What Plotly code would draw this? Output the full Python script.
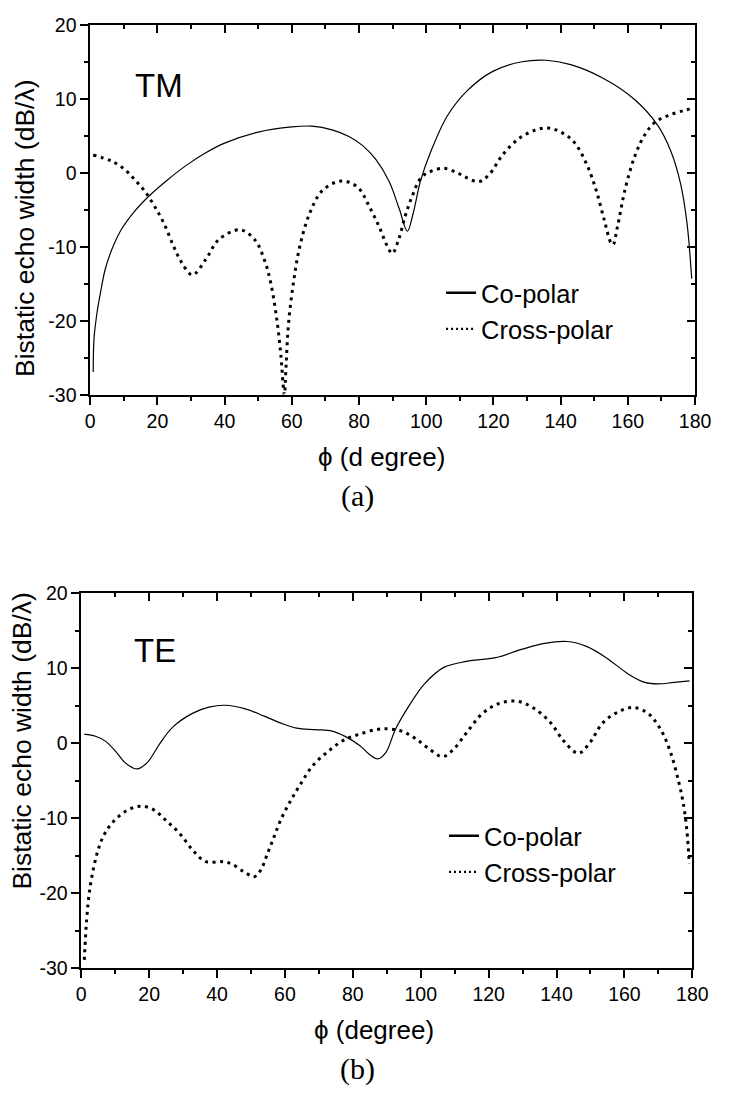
import plotly.graph_objects as go

# ---------------- data ----------------
tm_co_phi = [0.9, 1.16, 2.1, 3.1, 4.5, 6.5, 9.35, 13.2, 17.6, 22.9, 28.6, 34.4, 40.0, 50.0, 60.0,
             66.0, 72.0, 77.0, 81.0, 85.0, 89.0, 92.0, 94.4, 96.1, 98.3, 101.4, 106.3,
             112.0, 119.8, 128.5, 135.7, 143.0, 152.5, 162.0, 168.9, 172.8, 175.7, 177.6, 179.0]
tm_co_val = [-26.9, -22.3, -18.7, -16.1, -13.0, -10.3, -7.6, -5.2, -3.1, -1.0, 1.0, 2.7, 4.0, 5.5, 6.2,
             6.3, 5.8, 4.9, 3.7, 1.8, -1.2, -4.9, -7.9, -5.5, -1.1, 2.9, 7.7,
             11.0, 13.7, 15.0, 15.2, 14.6, 12.8, 9.9, 6.4, 2.9, -1.5, -6.8, -14.3]

tm_cross_phi = [0.9, 6.5, 10.3, 13.2, 16.1, 19.0, 21.9, 24.8, 27.2, 30.4, 34.4, 38.3, 44.6,
                48.9, 51.8, 53.7, 55.6, 56.8, 57.4, 57.8, 58.3, 59.0, 60.5, 62.4, 65.3, 69.1,
                74.9, 79.7, 83.1, 86.0, 88.4, 89.9, 91.8, 93.7, 95.7, 98.5, 101.4, 105.3,
                109.2, 112.0, 115.7, 118.8, 122.7, 127.5, 132.3, 136.2, 140.0, 143.9, 147.8,
                150.6, 153.0, 155.0, 155.6, 156.9, 159.3, 162.2, 165.0, 168.0, 171.8, 176.6, 179.5]
tm_cross_val = [2.4, 1.55, 0.45, -0.9, -2.4, -4.4, -6.8, -9.9, -12.1, -13.8, -11.7, -9.0, -7.7,
                -9.0, -11.7, -14.8, -20.0, -24.9, -28.5, -30.0, -26.0, -20.5, -14.8, -9.9, -5.5, -2.4,
                -1.1, -2.0, -4.6, -7.3, -9.9, -10.9, -9.0, -5.9, -3.3, -0.65, 0.2, 0.6,
                0.0, -0.65, -1.2, -0.2, 2.4, 4.6, 5.75, 6.05, 5.5, 4.2, 1.1,
                -2.4, -6.4, -9.5, -9.7, -7.3, -2.0, 2.4, 5.1, 6.8, 7.7, 8.4, 8.7]

te_co_phi = [0.9, 4.2, 7.1, 10.0, 12.8, 15.2, 16.7, 19.5, 23.3, 27.1, 32.9, 37.6, 42.4, 48.1, 53.9,
             58.6, 63.4, 69.1, 73.9, 77.7, 82.0, 84.9, 87.3, 89.7, 92.5, 96.3, 101.1, 106.8, 113.5,
             122.1, 129.7, 136.4, 143.1, 148.8, 154.6, 161.2, 166.0, 169.8, 174.6, 179.2]
te_co_val = [1.2, 0.92, 0.27, -1.03, -2.56, -3.3, -3.43, -2.56, 0.05, 2.2, 4.0, 4.8, 5.05, 4.6, 3.6,
             2.7, 2.0, 1.8, 1.6, 0.9, -0.3, -1.5, -2.1, -1.25, 1.8, 4.8, 7.9, 10.1, 10.9,
             11.4, 12.5, 13.3, 13.55, 12.9, 11.4, 9.2, 8.1, 7.9, 8.1, 8.3]

te_cross_phi = [0.9, 1.6, 2.5, 3.8, 5.2, 7.1, 10.0, 13.8, 17.6, 21.4, 25.2, 29.1, 32.9, 36.7,
                41.5, 44.3, 48.1, 51.0, 52.9, 54.8, 56.7, 58.6, 61.5, 64.4, 68.2, 73.0, 77.7,
                82.0, 86.8, 90.6, 94.4, 98.2, 102.0, 106.4, 109.7, 113.5, 118.3, 123.1, 128.3,
                133.5, 138.3, 142.1, 146.4, 149.8, 153.6, 158.3, 162.6, 166.9, 170.7, 173.6,
                176.0, 177.4, 178.4, 179.1]
te_cross_val = [-28.9, -23.5, -19.5, -16.3, -13.9, -11.9, -10.2, -8.9, -8.4, -8.9, -10.4, -12.1, -14.3, -15.8,
                -15.8, -16.1, -17.2, -17.8, -16.9, -14.8, -12.6, -10.4, -7.8, -5.6, -3.0, -1.0, 0.5,
                1.2, 1.8, 1.9, 1.6, 0.7, -0.6, -1.8, -0.8, 1.4, 4.0, 5.3, 5.6,
                4.6, 2.7, 0.3, -1.35, 0.05, 2.7, 4.2, 4.75, 4.0, 1.8, -1.25,
                -5.2, -8.2, -11.7, -16.1]

x_range = [0, 180]
y_range = [-30, 20]
y_tickvals = [-30, -20, -10, 0, 10, 20]
y_ticktext = ["-30", "-20", "-10", "0", "10", "20"]
y_title = "Bistatic echo width (dB/λ)"
x_title_a = "ϕ (d egree)"
x_title_b = "ϕ (degree)"
series_names = ["Co-polar", "Cross-polar"]

# ---------------- figure ----------------
W, H = 730, 1101
SANS = "Liberation Sans, Arial, sans-serif"
SERIF = "Liberation Serif, Times New Roman, serif"

def px_x(p):
    return p / W

def px_y(p):
    return 1 - p / H

fig = go.Figure()

co_line = dict(color="black", width=1.2, shape="spline", smoothing=1.0)
cross_line = dict(color="black", width=3, dash="3px,4.5px", shape="spline", smoothing=1.0)
co_leg = dict(color="black", width=2.6)
cross_leg = dict(color="black", width=2.2, dash="2px,3px")

for xa, ya, lg, xs1, ys1, xs2, ys2 in [
    ("x", "y", "legend", tm_co_phi, tm_co_val, tm_cross_phi, tm_cross_val),
    ("x2", "y2", "legend2", te_co_phi, te_co_val, te_cross_phi, te_cross_val),
]:
    fig.add_trace(go.Scatter(x=xs1, y=ys1, mode="lines", name=series_names[0], line=co_line,
                             xaxis=xa, yaxis=ya, showlegend=False))
    fig.add_trace(go.Scatter(x=xs2, y=ys2, mode="lines", name=series_names[1], line=cross_line,
                             xaxis=xa, yaxis=ya, showlegend=False))
    # legend-only entries (no data drawn) so the legend keys can be styled like the reference
    fig.add_trace(go.Scatter(x=[None], y=[None], mode="lines", name=series_names[0], line=co_leg,
                             xaxis=xa, yaxis=ya, legend=lg, hoverinfo="skip"))
    fig.add_trace(go.Scatter(x=[None], y=[None], mode="lines", name=series_names[1], line=cross_leg,
                             xaxis=xa, yaxis=ya, legend=lg, hoverinfo="skip"))

# empty traces to activate the mirrored (inside-tick) axes
fig.add_trace(go.Scatter(x=[], y=[], xaxis="x3", yaxis="y3", showlegend=False, hoverinfo="skip"))
fig.add_trace(go.Scatter(x=[], y=[], xaxis="x4", yaxis="y4", showlegend=False, hoverinfo="skip"))

tickfont = dict(family=SANS, size=19.5, color="black")

def main_x(domain, anchor):
    return dict(domain=domain, anchor=anchor, range=x_range, tick0=0, dtick=20,
                ticks="outside", ticklen=8, tickwidth=1.5, tickcolor="black",
                showline=True, linewidth=1.5, linecolor="black", mirror=True,
                showgrid=False, zeroline=False, tickfont=tickfont,
                minor=dict(tick0=0, dtick=10, ticks="outside", ticklen=4, tickwidth=1.5,
                           tickcolor="black", showgrid=False))

def main_y(domain, anchor):
    return dict(domain=domain, anchor=anchor, range=y_range, tickmode="array",
                tickvals=y_tickvals, ticktext=y_ticktext,
                ticks="outside", ticklen=8, tickwidth=1.5, tickcolor="black",
                showline=True, linewidth=1.5, linecolor="black", mirror=True,
                showgrid=False, zeroline=False, tickfont=tickfont,
                minor=dict(tick0=0, dtick=5, ticks="outside", ticklen=4, tickwidth=1.5,
                           tickcolor="black", showgrid=False))

def over_x(over, anchor):
    return dict(overlaying=over, anchor=anchor, side="top", range=x_range, tick0=0, dtick=20,
                ticks="inside", ticklen=8, tickwidth=1.5, tickcolor="black",
                showticklabels=False, showline=False, showgrid=False, zeroline=False,
                minor=dict(tick0=0, dtick=10, ticks="inside", ticklen=4, tickwidth=1.5,
                           tickcolor="black", showgrid=False))

def over_y(over, anchor):
    return dict(overlaying=over, anchor=anchor, side="right", range=y_range, tick0=0, dtick=10,
                ticks="inside", ticklen=8, tickwidth=1.5, tickcolor="black",
                showticklabels=False, showline=False, showgrid=False, zeroline=False,
                minor=dict(tick0=0, dtick=5, ticks="inside", ticklen=4, tickwidth=1.5,
                           tickcolor="black", showgrid=False))

top_xd = [px_x(87.7), px_x(710.5)]
top_yd = [px_y(391.7), px_y(14)]
bot_xd = [px_x(78.5), px_x(707.7)]
bot_yd = [px_y(976.7), px_y(594)]

legend_font = dict(family=SANS, size=25.5, color="black")

fig.update_layout(
    width=W, height=H,
    margin=dict(l=0, r=0, t=0, b=0),
    paper_bgcolor="white", plot_bgcolor="white",
    xaxis=main_x(top_xd, "y"), yaxis=main_y(top_yd, "x"),
    xaxis2=main_x(bot_xd, "y2"), yaxis2=main_y(bot_yd, "x2"),
    xaxis3=over_x("x", "y"), yaxis3=over_y("y", "x"),
    xaxis4=over_x("x2", "y2"), yaxis4=over_y("y2", "x2"),
    legend=dict(x=px_x(449), y=px_y(264), xanchor="left", yanchor="top",
                font=legend_font, bgcolor="rgba(0,0,0,0)"),
    legend2=dict(x=px_x(452), y=px_y(818), xanchor="left", yanchor="top",
                 font=legend_font, bgcolor="rgba(0,0,0,0)"),
    showlegend=True,
)

ann = [
    dict(text="TM", x=px_x(158.3), y=px_y(75.8), font=dict(family=SANS, size=33, color="black")),
    dict(text="TE", x=px_x(154), y=px_y(652.5), font=dict(family=SANS, size=33, color="black")),
    dict(text=y_title, x=px_x(20), y=px_y(221), textangle=-90,
         font=dict(family=SANS, size=26.5, color="black")),
    dict(text=y_title, x=px_x(18), y=px_y(744), textangle=-90,
         font=dict(family=SANS, size=26.5, color="black")),
    dict(text=x_title_a, x=px_x(388), y=px_y(455), font=dict(family=SANS, size=26, color="black")),
    dict(text=x_title_b, x=px_x(380), y=px_y(1040), font=dict(family=SANS, size=26, color="black")),
    dict(text="(a)", x=px_x(363), y=px_y(495), font=dict(family=SERIF, size=30, color="black")),
    dict(text="(b)", x=px_x(363), y=px_y(1080), font=dict(family=SERIF, size=30, color="black")),
]
for a in ann:
    a.update(xref="paper", yref="paper", xanchor="center", yanchor="middle", showarrow=False)
fig.update_layout(annotations=ann)

fig.write_html("out.html")
